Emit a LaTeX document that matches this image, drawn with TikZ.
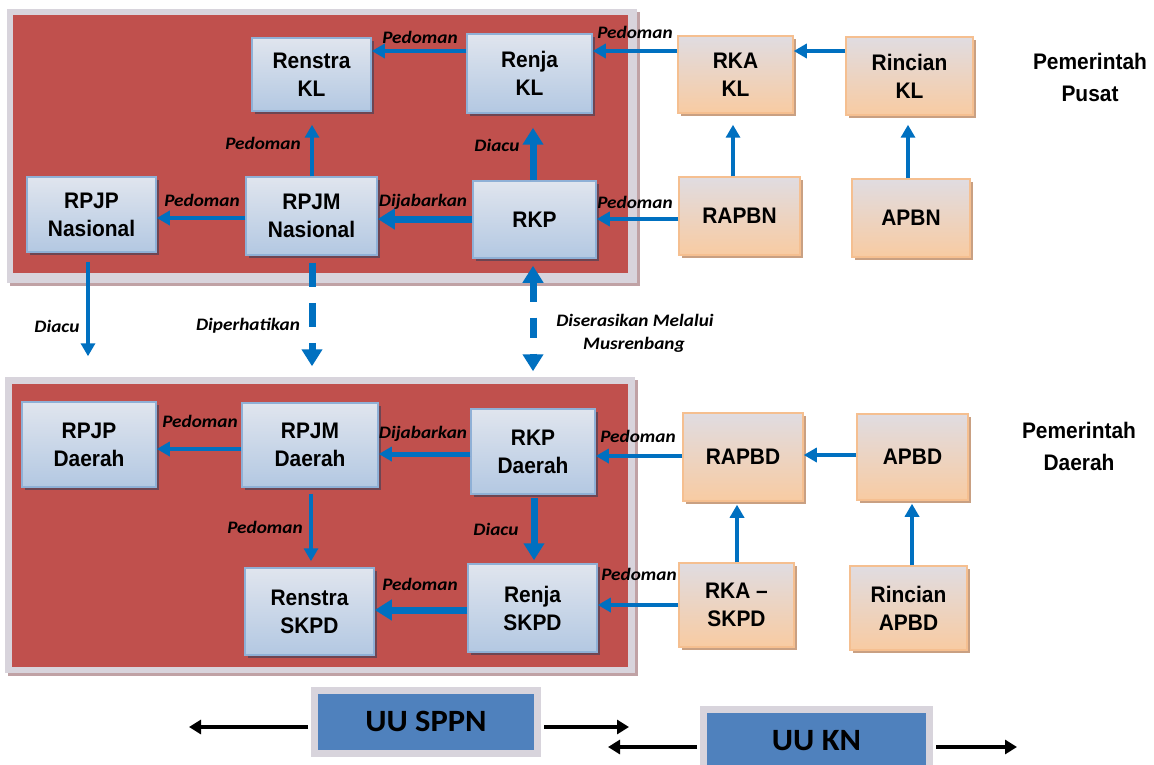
\documentclass[tikz,border=0pt]{standalone}
\usepackage{fontspec}
\setmainfont{Liberation Sans}
\newfontfamily\nodefont{Liberation Sans}[FakeStretch=0.93]
\newfontfamily\lblfont{Carlito}[FakeStretch=1.1]
\newfontfamily\uufont{Carlito}[FakeStretch=1.05]
\usetikzlibrary{arrows.meta,shadows}
\definecolor{panelred}{HTML}{C0504D}
\definecolor{framegray}{HTML}{D8D4DC}
\definecolor{frameshadow}{HTML}{C0A2A5}
\definecolor{blueTop}{HTML}{E0E5EE}
\definecolor{blueBot}{HTML}{B3C8E2}
\definecolor{blueBorder}{HTML}{8FB0D6}
\definecolor{blueShadow}{HTML}{6E4552}
\definecolor{orTop}{HTML}{E0DCE1}
\definecolor{orBot}{HTML}{F8CBA2}
\definecolor{orBorder}{HTML}{F5BF90}
\definecolor{orShadow}{HTML}{C9A082}
\definecolor{arrblue}{HTML}{0070C0}
\definecolor{uublue}{HTML}{4F81BD}
\definecolor{uushadow}{HTML}{A3B2C6}
\tikzset{
  box/.style={rectangle, inner sep=0pt, align=center, line width=1.5pt,
    font=\nodefont\bfseries\fontsize{22.5}{28}\selectfont},
  bluebox/.style={box, draw=blueBorder, top color=blueTop, bottom color=blueBot,
    drop shadow={shadow xshift=3pt, shadow yshift=-3pt, fill=blueShadow, opacity=1}},
  orbox/.style={box, draw=orBorder, top color=orTop, bottom color=orBot,
    drop shadow={shadow xshift=3pt, shadow yshift=-3pt, fill=orShadow, opacity=1}},
  uubox/.style={rectangle, inner sep=0pt, fill=uublue, draw=framegray, line width=7pt,
    font=\uufont\bfseries\fontsize{31}{36}\selectfont,
    drop shadow={shadow xshift=3pt, shadow yshift=-3pt, fill=uushadow, opacity=1}},
  thinarr/.style={draw=arrblue, line width=4pt, -{Triangle[length=13pt,width=14pt]}},
  thickarr/.style={draw=arrblue, line width=7pt, -{Triangle[length=17pt,width=20pt]}},
  blackarr/.style={draw=black, line width=3.5pt, -{Triangle[length=12pt,width=14pt]}},
  lbl/.style={inner sep=0pt, font=\lblfont\bfseries\itshape\fontsize{17.5}{21}\selectfont},
  gov/.style={inner sep=0pt, align=center, font=\nodefont\bfseries\fontsize{22.5}{32}\selectfont}
}
\begin{document}
\begin{tikzpicture}[x=1pt,y=-1pt]
\clip (0,0) rectangle (1154,765);
\fill[white] (0,0) rectangle (1154,765);
% panels
\fill[frameshadow] (10,12) rectangle (640,286);
\fill[framegray] (7,9) rectangle (637,283);
\fill[panelred] (13,15) rectangle (628,273);
\fill[frameshadow] (8,380) rectangle (638,676);
\fill[framegray] (5,377) rectangle (635,673);
\fill[panelred] (12,384) rectangle (628,667);

% top boxes
\node[bluebox, minimum width=119pt, minimum height=73pt] (renstrakl) at (311.5,74.5) {Renstra\\KL};
\node[bluebox, minimum width=125pt, minimum height=79pt] (renjakl) at (529.5,73.5) {Renja\\KL};
\node[bluebox, minimum width=129pt, minimum height=75pt] (rpjpn) at (91.5,214.5) {RPJP\\Nasional};
\node[bluebox, minimum width=131pt, minimum height=78pt] (rpjmn) at (311.5,216) {RPJM\\Nasional};
\node[bluebox, minimum width=123pt, minimum height=77pt] (rkp) at (534.5,219.5) {RKP};
\node[orbox, minimum width=115pt, minimum height=77pt] (rkakl) at (735.5,74.5) {RKA\\KL};
\node[orbox, minimum width=127pt, minimum height=78pt] (rinciankl) at (909.5,76) {Rincian\\KL};
\node[orbox, minimum width=121pt, minimum height=78pt] (rapbn) at (739.5,216) {RAPBN};
\node[orbox, minimum width=118pt, minimum height=78pt] (apbn) at (911,218) {APBN};

% bottom boxes
\node[bluebox, minimum width=134pt, minimum height=85pt] (rpjpd) at (89,444.5) {RPJP\\Daerah};
\node[bluebox, minimum width=136pt, minimum height=84pt] (rpjmd) at (310,445) {RPJM\\Daerah};
\node[bluebox, minimum width=129pt, minimum height=87pt] (renstras) at (309.5,611.5) {Renstra\\SKPD};
\node[bluebox, minimum width=124pt, minimum height=85pt] (rkpd) at (533,451.5) {RKP\\Daerah};
\node[bluebox, minimum width=129pt, minimum height=88pt] (renjas) at (532.5,608) {Renja\\SKPD};
\node[orbox, minimum width=120pt, minimum height=88pt] (rapbd) at (743,457) {RAPBD};
\node[orbox, minimum width=111pt, minimum height=86pt] (apbd) at (912.5,457) {APBD};
\node[orbox, minimum width=115pt, minimum height=84pt] (rkas) at (736.5,605) {RKA –\\SKPD};
\node[orbox, minimum width=117pt, minimum height=84pt] (rincianapbd) at (908.5,608) {Rincian\\APBD};

% government labels
\node[gov] (pusat) at (1090,77) {Pemerintah\\Pusat};
\node[gov] (daerah) at (1079,446) {Pemerintah\\Daerah};

% top arrows
\draw[thinarr] (renjakl.west |- 0,51) -- (renstrakl.east |- 0,51);
\draw[thinarr] (rkakl.west |- 0,51) -- (renjakl.east |- 0,51);
\draw[thinarr] (rinciankl.west |- 0,51) -- (rkakl.east |- 0,51);
\draw[thinarr, shorten >=13pt] (rpjmn.north -| 312,0) -- (renstrakl.south -| 312,0);
\draw[thickarr, shorten >=14pt] (rkp.north -| 533,0) -- (renjakl.south -| 533,0);
\draw[thinarr] (rpjmn.west |- 0,218) -- (rpjpn.east |- 0,218);
\draw[thickarr] (rkp.west |- 0,219) -- (rpjmn.east |- 0,219);
\draw[thinarr] (rapbn.west |- 0,219) -- (rkp.east |- 0,219);
\draw[thinarr, shorten >=11pt] (rapbn.north -| 733,0) -- (rkakl.south -| 733,0);
\draw[thinarr, shorten >=9pt] (apbn.north -| 908,0) -- (rinciankl.south -| 908,0);

% between panels
\draw[thinarr, shorten <=9pt, shorten >=45pt] (rpjpn.south -| 88,0) -- (rpjpd.north -| 88,0);
\draw[thickarr, dash pattern=on 24pt off 16pt, shorten <=7pt, shorten >=36pt] (rpjmn.south -| 312,0) -- (rpjmd.north -| 312,0);
\draw[thickarr, {Triangle[length=17pt,width=20pt]}-{Triangle[length=17pt,width=20pt]}, dash pattern=on 20pt off 16pt, shorten <=7pt, shorten >=37pt] (rkp.south -| 533,0) -- (rkpd.north -| 533,0);

% bottom arrows
\draw[thinarr] (rpjmd.west |- 0,449) -- (rpjpd.east |- 0,449);
\draw[thinarr, line width=5pt] (rkpd.west |- 0,454) -- (rpjmd.east |- 0,454);
\draw[thinarr] (rapbd.west |- 0,456) -- (rkpd.east |- 0,456);
\draw[thinarr] (apbd.west |- 0,455) -- (rapbd.east |- 0,455);
\draw[thinarr, shorten <=6pt, shorten >=6pt] (rpjmd.south -| 311,0) -- (renstras.north -| 311,0);
\draw[thickarr, shorten <=3pt, shorten >=3pt] (rkpd.south -| 534,0) -- (renjas.north -| 534,0);
\draw[thickarr] (renjas.west |- 0,610) -- (renstras.east |- 0,610);
\draw[thinarr] (rkas.west |- 0,605) -- (renjas.east |- 0,605);
\draw[thinarr, shorten >=3pt] (rkas.north -| 737,0) -- (rapbd.south -| 737,0);
\draw[thinarr, shorten >=3pt] (rincianapbd.north -| 912,0) -- (apbd.south -| 912,0);

% labels
\node[lbl] (l1) at (420,37) {Pedoman};
\node[lbl] (l2) at (635,32) {Pedoman};
\node[lbl] (l3) at (263,143) {Pedoman};
\node[lbl] (l4) at (497,145) {Diacu};
\node[lbl] (l5) at (202,200) {Pedoman};
\node[lbl] (l6) at (423,202) {Dijabarkan};
\node[lbl] (l7) at (635,202) {Pedoman};
\node[lbl] (l8) at (57,326) {Diacu};
\node[lbl] (l9) at (248,326) {Diperhatikan};
\node[lbl] (l10) at (635,320) {Diserasikan Melalui};
\node[lbl] (l11) at (634,345) {Musrenbang};
\node[lbl] (l12) at (200,421) {Pedoman};
\node[lbl] (l13) at (423,434) {Dijabarkan};
\node[lbl] (l14) at (638,436) {Pedoman};
\node[lbl] (l15) at (265,527) {Pedoman};
\node[lbl] (l16) at (496,529) {Diacu};
\node[lbl] (l17) at (420,584) {Pedoman};
\node[lbl] (l18) at (639,574) {Pedoman};

% UU boxes
\node[uubox, minimum width=223pt, minimum height=63.5pt] (sppn) at (426,721.75) {UU SPPN};
\node[uubox, minimum width=226pt, minimum height=63.5pt] (kn) at (816.5,740.75) {UU KN};
\coordinate (sppnL) at (189,727);
\coordinate (sppnR) at (629,727);
\coordinate (knL) at (608,747);
\coordinate (knR) at (1017,747);
\draw[blackarr, shorten <=3pt] (sppn.west |- sppnL) -- (sppnL);
\draw[blackarr, shorten <=3pt] (sppn.east |- sppnR) -- (sppnR);
\draw[blackarr, shorten <=3pt] (kn.west |- knL) -- (knL);
\draw[blackarr, shorten <=3pt] (kn.east |- knR) -- (knR);
\end{tikzpicture}
\end{document}
